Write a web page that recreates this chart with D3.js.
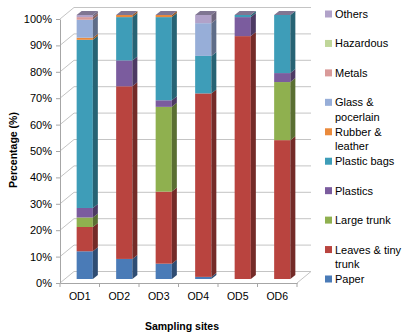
<!DOCTYPE html>
<html>
<head>
<meta charset="utf-8">
<script src="https://cdn.jsdelivr.net/npm/d3@7"></script>
<style>
  html, body { margin: 0; padding: 0; background: #fff; }
  svg { display: block; font-family: "Liberation Sans", Arial, sans-serif; }
</style>
</head>
<body>
<svg id="chart" width="403" height="335"></svg>
<script>
// Sampling sites
const sites = ["OD1", "OD2", "OD3", "OD4", "OD5", "OD6"];

// Waste composition per site (%), stacked bottom to top
const paper       = [10.5, 7.6, 5.8, 0.8, 0, 0];
const leaves      = [9.2, 65.4, 27.3, 69.5, 92.0, 52.6];
const largeTrunk  = [3.6, 0, 32.1, 0, 0, 22.0];
const plastics    = [3.6, 9.8, 2.5, 0, 7.2, 3.4];
const plasticBags = [63.7, 16.4, 31.5, 14.2, 0.8, 22.0];
const rubber      = [0.8, 0.8, 0.8, 0, 0, 0];
const glass       = [6.8, 0, 0, 12.4, 0, 0];
const metals      = [1.0, 0, 0, 0, 0, 0];
const hazardous   = [0, 0, 0, 0, 0, 0];
const others      = [0.8, 0, 0, 3.1, 0, 0];

const seriesNames = ["Paper", "Leaves & tiny trunk", "Large trunk", "Plastics",
  "Plastic bags", "Rubber & leather", "Glass & pocerlain", "Metals", "Hazardous", "Others"];
const seriesValues = [paper, leaves, largeTrunk, plastics, plasticBags,
  rubber, glass, metals, hazardous, others];
const seriesColors = ["#4a7bb7", "#b9443f", "#8fb04f", "#7b5c9e", "#3e9db8",
  "#ea8a3c", "#97aed8", "#d99a99", "#bfd699", "#b1a2c9"];

const yTicks = [0, 10, 20, 30, 40, 50, 60, 70, 80, 90, 100];

// Table for d3.stack
const rows = sites.map((s, i) => {
  const r = { site: s };
  seriesNames.forEach((n, k) => { r[n] = seriesValues[k][i]; });
  return r;
});
const stacked = d3.stack().keys(seriesNames)(rows);

const svg = d3.select("#chart");

// Front plane of the 3D box
const x = d3.scaleBand().domain(sites).range([60, 297]).padding(0);
const y = d3.scaleLinear().domain([0, 100]).range([283, 19]);

// Depth offsets: back wall and the bar slab
const wallDx = 14, wallDy = -11.5;
const barDx = 5, barDy = -4;       // bar front face offset from front plane
const depthDx = 5, depthDy = -4;   // bar thickness
const barW = x.bandwidth() * 0.41;

const gridColor = "#c4c4c4";
const axisColor = "#a6a6a6";
const fontFam = "'Liberation Sans', Arial, sans-serif";

// Back wall gridlines
svg.append("g").selectAll("line").data(yTicks).join("line")
  .attr("x1", 60 + wallDx).attr("x2", 297 + wallDx)
  .attr("y1", d => y(d) + wallDy).attr("y2", d => y(d) + wallDy)
  .attr("stroke", gridColor).attr("stroke-width", 1);

// Side wall diagonals
svg.append("g").selectAll("line").data(yTicks).join("line")
  .attr("x1", 60).attr("x2", 60 + wallDx)
  .attr("y1", d => y(d)).attr("y2", d => y(d) + wallDy)
  .attr("stroke", gridColor).attr("stroke-width", 1);

// Floor: right edge diagonal
svg.append("line")
  .attr("x1", 297).attr("y1", y(0))
  .attr("x2", 297 + wallDx).attr("y2", y(0) + wallDy)
  .attr("stroke", gridColor);

// Value axis
const yAxis = svg.append("g")
  .attr("transform", "translate(60,0)")
  .call(d3.axisLeft(y).tickValues(yTicks).tickFormat(d => d + "%")
    .tickSize(4).tickSizeOuter(0).tickPadding(4));
yAxis.select(".domain").attr("stroke", axisColor);
yAxis.selectAll(".tick line").attr("stroke", axisColor);
yAxis.selectAll(".tick text").attr("fill", "#000").style("font-size", "11px")
  .style("font-family", fontFam);

// Category axis
const xAxis = svg.append("g")
  .attr("transform", `translate(0,${y(0)})`)
  .call(d3.axisBottom(x).tickSize(0).tickPadding(10));
xAxis.select(".domain").attr("stroke", axisColor);
xAxis.selectAll(".tick text").attr("fill", "#000").style("font-size", "10.5px")
  .style("font-family", fontFam);
// ticks at category boundaries
svg.append("g").selectAll("line").data(sites.concat(["_end"])).join("line")
  .attr("x1", (d, i) => 60 + i * x.step()).attr("x2", (d, i) => 60 + i * x.step())
  .attr("y1", y(0)).attr("y2", y(0) + 4)
  .attr("stroke", axisColor);

// 3D stacked bars
const shade = (c, k) => d3.color(c).darker(k).formatHex();
const barsG = svg.append("g");
sites.forEach((s, i) => {
  const x0 = x(s) + x.bandwidth() / 2 - barW / 2 + barDx;
  stacked.forEach((layer, k) => {
    const [v0, v1] = layer[i];
    if (v1 - v0 <= 0) return;
    const yb = y(v0) + barDy, yt = y(v1) + barDy;
    const col = seriesColors[k];
    // front face
    barsG.append("rect")
      .attr("x", x0).attr("y", yt).attr("width", barW).attr("height", yb - yt)
      .attr("fill", col);
    // side face
    barsG.append("path")
      .attr("d", `M${x0 + barW},${yt} L${x0 + barW + depthDx},${yt + depthDy} L${x0 + barW + depthDx},${yb + depthDy} L${x0 + barW},${yb} Z`)
      .attr("fill", shade(col, 1.3));
  });
  // top face of the stack (last series box sits on top)
  const top = y(100) + barDy;
  barsG.append("path")
    .attr("d", `M${x0},${top} L${x0 + depthDx},${top + depthDy} L${x0 + barW + depthDx},${top + depthDy} L${x0 + barW},${top} Z`)
    .attr("fill", shade(seriesColors[seriesColors.length - 1], 0.9));
});

// Axis titles
svg.append("text")
  .attr("transform", "translate(17,150) rotate(-90)")
  .attr("text-anchor", "middle")
  .style("font-size", "10.5px").style("font-weight", "bold")
  .text("Percentage (%)");
svg.append("text")
  .attr("x", 182).attr("y", 330)
  .attr("text-anchor", "middle")
  .style("font-size", "10.5px").style("font-weight", "bold")
  .text("Sampling sites");

// Legend (top to bottom: last series first)
const legendItems = seriesNames.map((n, k) => ({ name: n, color: seriesColors[k] })).reverse();
const legendLines = {
  "Glass & pocerlain": ["Glass &", "pocerlain"],
  "Rubber & leather": ["Rubber &", "leather"],
  "Leaves & tiny trunk": ["Leaves & tiny", "trunk"]
};
const ly = d3.scaleLinear().domain([0, legendItems.length - 1]).range([14, 279]);
const lg = svg.append("g").selectAll("g").data(legendItems).join("g")
  .attr("transform", (d, i) => `translate(325,${ly(i)})`);
lg.append("rect").attr("x", 0).attr("y", -3.5).attr("width", 7).attr("height", 7)
  .attr("fill", d => d.color);
lg.append("text")
  .attr("x", 10).attr("y", 4)
  .style("font-size", "11px")
  .selectAll("tspan").data(d => legendLines[d.name] || [d.name]).join("tspan")
  .attr("x", 10).attr("dy", (d, j) => j === 0 ? 0 : 14.5)
  .text(d => d);
</script>
</body>
</html>
